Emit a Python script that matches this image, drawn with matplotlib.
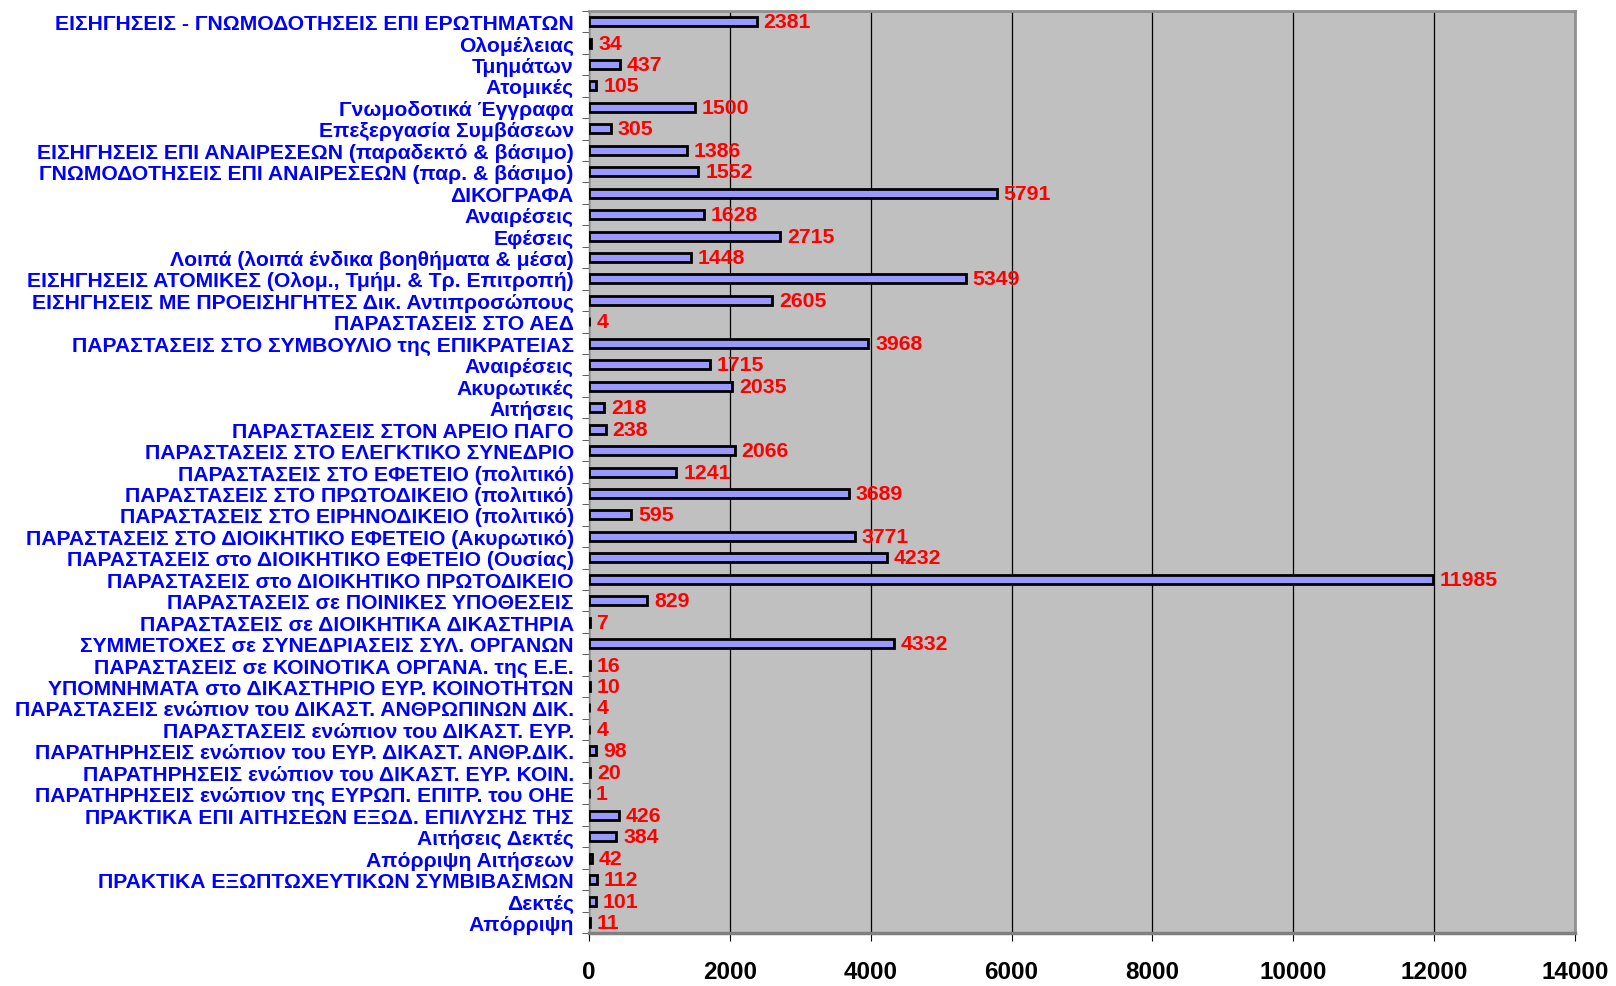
import matplotlib.pyplot as plt
import numpy as np
from matplotlib import font_manager

categories = [
    "ΕΙΣΗΓΗΣΕΙΣ - ΓΝΩΜΟΔΟΤΗΣΕΙΣ ΕΠΙ ΕΡΩΤΗΜΑΤΩΝ",
    "Ολομέλειας",
    "Τμημάτων",
    "Ατομικές",
    "Γνωμοδοτικά Έγγραφα",
    "Επεξεργασία Συμβάσεων",
    "ΕΙΣΗΓΗΣΕΙΣ ΕΠΙ ΑΝΑΙΡΕΣΕΩΝ (παραδεκτό & βάσιμο)",
    "ΓΝΩΜΟΔΟΤΗΣΕΙΣ ΕΠΙ ΑΝΑΙΡΕΣΕΩΝ (παρ. & βάσιμο)",
    "ΔΙΚΟΓΡΑΦΑ",
    "Αναιρέσεις",
    "Εφέσεις",
    "Λοιπά (λοιπά ένδικα βοηθήματα & μέσα)",
    "ΕΙΣΗΓΗΣΕΙΣ ΑΤΟΜΙΚΕΣ (Ολομ., Τμήμ. & Τρ. Επιτροπή)",
    "ΕΙΣΗΓΗΣΕΙΣ ΜΕ ΠΡΟΕΙΣΗΓΗΤΕΣ Δικ. Αντιπροσώπους",
    "ΠΑΡΑΣΤΑΣΕΙΣ ΣΤΟ ΑΕΔ",
    "ΠΑΡΑΣΤΑΣΕΙΣ ΣΤΟ ΣΥΜΒΟΥΛΙΟ της ΕΠΙΚΡΑΤΕΙΑΣ",
    "Αναιρέσεις",
    "Ακυρωτικές",
    "Αιτήσεις",
    "ΠΑΡΑΣΤΑΣΕΙΣ ΣΤΟΝ ΑΡΕΙΟ ΠΑΓΟ",
    "ΠΑΡΑΣΤΑΣΕΙΣ ΣΤΟ ΕΛΕΓΚΤΙΚΟ ΣΥΝΕΔΡΙΟ",
    "ΠΑΡΑΣΤΑΣΕΙΣ ΣΤΟ ΕΦΕΤΕΙΟ (πολιτικό)",
    "ΠΑΡΑΣΤΑΣΕΙΣ ΣΤΟ ΠΡΩΤΟΔΙΚΕΙΟ (πολιτικό)",
    "ΠΑΡΑΣΤΑΣΕΙΣ ΣΤΟ ΕΙΡΗΝΟΔΙΚΕΙΟ (πολιτικό)",
    "ΠΑΡΑΣΤΑΣΕΙΣ ΣΤΟ ΔΙΟΙΚΗΤΙΚΟ ΕΦΕΤΕΙΟ (Ακυρωτικό)",
    "ΠΑΡΑΣΤΑΣΕΙΣ στο ΔΙΟΙΚΗΤΙΚΟ ΕΦΕΤΕΙΟ (Ουσίας)",
    "ΠΑΡΑΣΤΑΣΕΙΣ στο ΔΙΟΙΚΗΤΙΚΟ ΠΡΩΤΟΔΙΚΕΙΟ",
    "ΠΑΡΑΣΤΑΣΕΙΣ σε ΠΟΙΝΙΚΕΣ ΥΠΟΘΕΣΕΙΣ",
    "ΠΑΡΑΣΤΑΣΕΙΣ σε ΔΙΟΙΚΗΤΙΚΑ ΔΙΚΑΣΤΗΡΙΑ",
    "ΣΥΜΜΕΤΟΧΕΣ σε ΣΥΝΕΔΡΙΑΣΕΙΣ ΣΥΛ. ΟΡΓΑΝΩΝ",
    "ΠΑΡΑΣΤΑΣΕΙΣ σε ΚΟΙΝΟΤΙΚΑ ΟΡΓΑΝΑ. της Ε.Ε.",
    "ΥΠΟΜΝΗΜΑΤΑ στο ΔΙΚΑΣΤΗΡΙΟ ΕΥΡ. ΚΟΙΝΟΤΗΤΩΝ",
    "ΠΑΡΑΣΤΑΣΕΙΣ ενώπιον του ΔΙΚΑΣΤ. ΑΝΘΡΩΠΙΝΩΝ ΔΙΚ.",
    "ΠΑΡΑΣΤΑΣΕΙΣ ενώπιον του ΔΙΚΑΣΤ. ΕΥΡ.",
    "ΠΑΡΑΤΗΡΗΣΕΙΣ ενώπιον του ΕΥΡ. ΔΙΚΑΣΤ. ΑΝΘΡ.ΔΙΚ.",
    "ΠΑΡΑΤΗΡΗΣΕΙΣ ενώπιον του ΔΙΚΑΣΤ. ΕΥΡ. ΚΟΙΝ.",
    "ΠΑΡΑΤΗΡΗΣΕΙΣ ενώπιον της ΕΥΡΩΠ. ΕΠΙΤΡ. του ΟΗΕ",
    "ΠΡΑΚΤΙΚΑ ΕΠΙ ΑΙΤΗΣΕΩΝ ΕΞΩΔ. ΕΠΙΛΥΣΗΣ ΤΗΣ",
    "Αιτήσεις Δεκτές",
    "Απόρριψη Αιτήσεων",
    "ΠΡΑΚΤΙΚΑ ΕΞΩΠΤΩΧΕΥΤΙΚΩΝ ΣΥΜΒΙΒΑΣΜΩΝ",
    "Δεκτές",
    "Απόρριψη",
]
values = [2381, 34, 437, 105, 1500, 305, 1386, 1552, 5791, 1628, 2715, 1448,
          5349, 2605, 4, 3968, 1715, 2035, 218, 238, 2066, 1241, 3689, 595,
          3771, 4232, 11985, 829, 7, 4332, 16, 10, 4, 4, 98, 20, 1, 426, 384,
          42, 112, 101, 11]
x_ticks = [0, 2000, 4000, 6000, 8000, 10000, 12000, 14000]

installed = {f.name for f in font_manager.fontManager.ttflist}
family = [f for f in ["Liberation Sans Narrow", "Liberation Sans", "DejaVu Sans"] if f in installed]
plt.rcParams['font.family'] = family

fig = plt.figure(figsize=(16.16, 9.87), dpi=100)
ax = fig.add_axes([0.3645, 0.0535, 0.6101, 0.9345])
ax.set_facecolor("#C0C0C0")

y = np.arange(len(categories))
ax.barh(y, values, height=0.42, color="#9999FF", edgecolor="black", linewidth=2, zorder=3)

for yi, v in zip(y, values):
    ax.annotate(str(v), (v, yi), xytext=(5, 0), textcoords="offset points",
                va="center", ha="left", color="#FF0000", fontsize=15.3,
                fontweight="bold", zorder=4)

ax.set_ylim(len(categories) - 0.5, -0.5)
ax.set_xlim(0, 14000)
ax.set_xticks(x_ticks)
ax.set_xticklabels([str(t) for t in x_ticks], fontsize=17.5, fontweight="bold")
ax.set_yticks(y)
ax.set_yticklabels(categories, fontsize=15.2, fontweight="bold", color="#0000FF")
ax.set_yticks(np.arange(len(categories) + 1) - 0.5, minor=True)
ax.tick_params(axis="y", which="major", length=0, pad=11)
ax.tick_params(axis="y", which="minor", length=5, color="#404040")
ax.tick_params(axis="x", length=6, pad=13, color="black")

ax.grid(axis="x", color="black", linewidth=0.9, zorder=1)
ax.set_axisbelow(True)

ax.spines["bottom"].set_color("#808080")
ax.spines["bottom"].set_linewidth(2.5)
ax.spines["left"].set_color("#808080")
ax.spines["left"].set_linewidth(1)
ax.spines["top"].set_color("#909090")
ax.spines["top"].set_linewidth(2)
ax.spines["right"].set_color("#909090")
ax.spines["right"].set_linewidth(2)

fig.savefig("out.png", dpi=100)
